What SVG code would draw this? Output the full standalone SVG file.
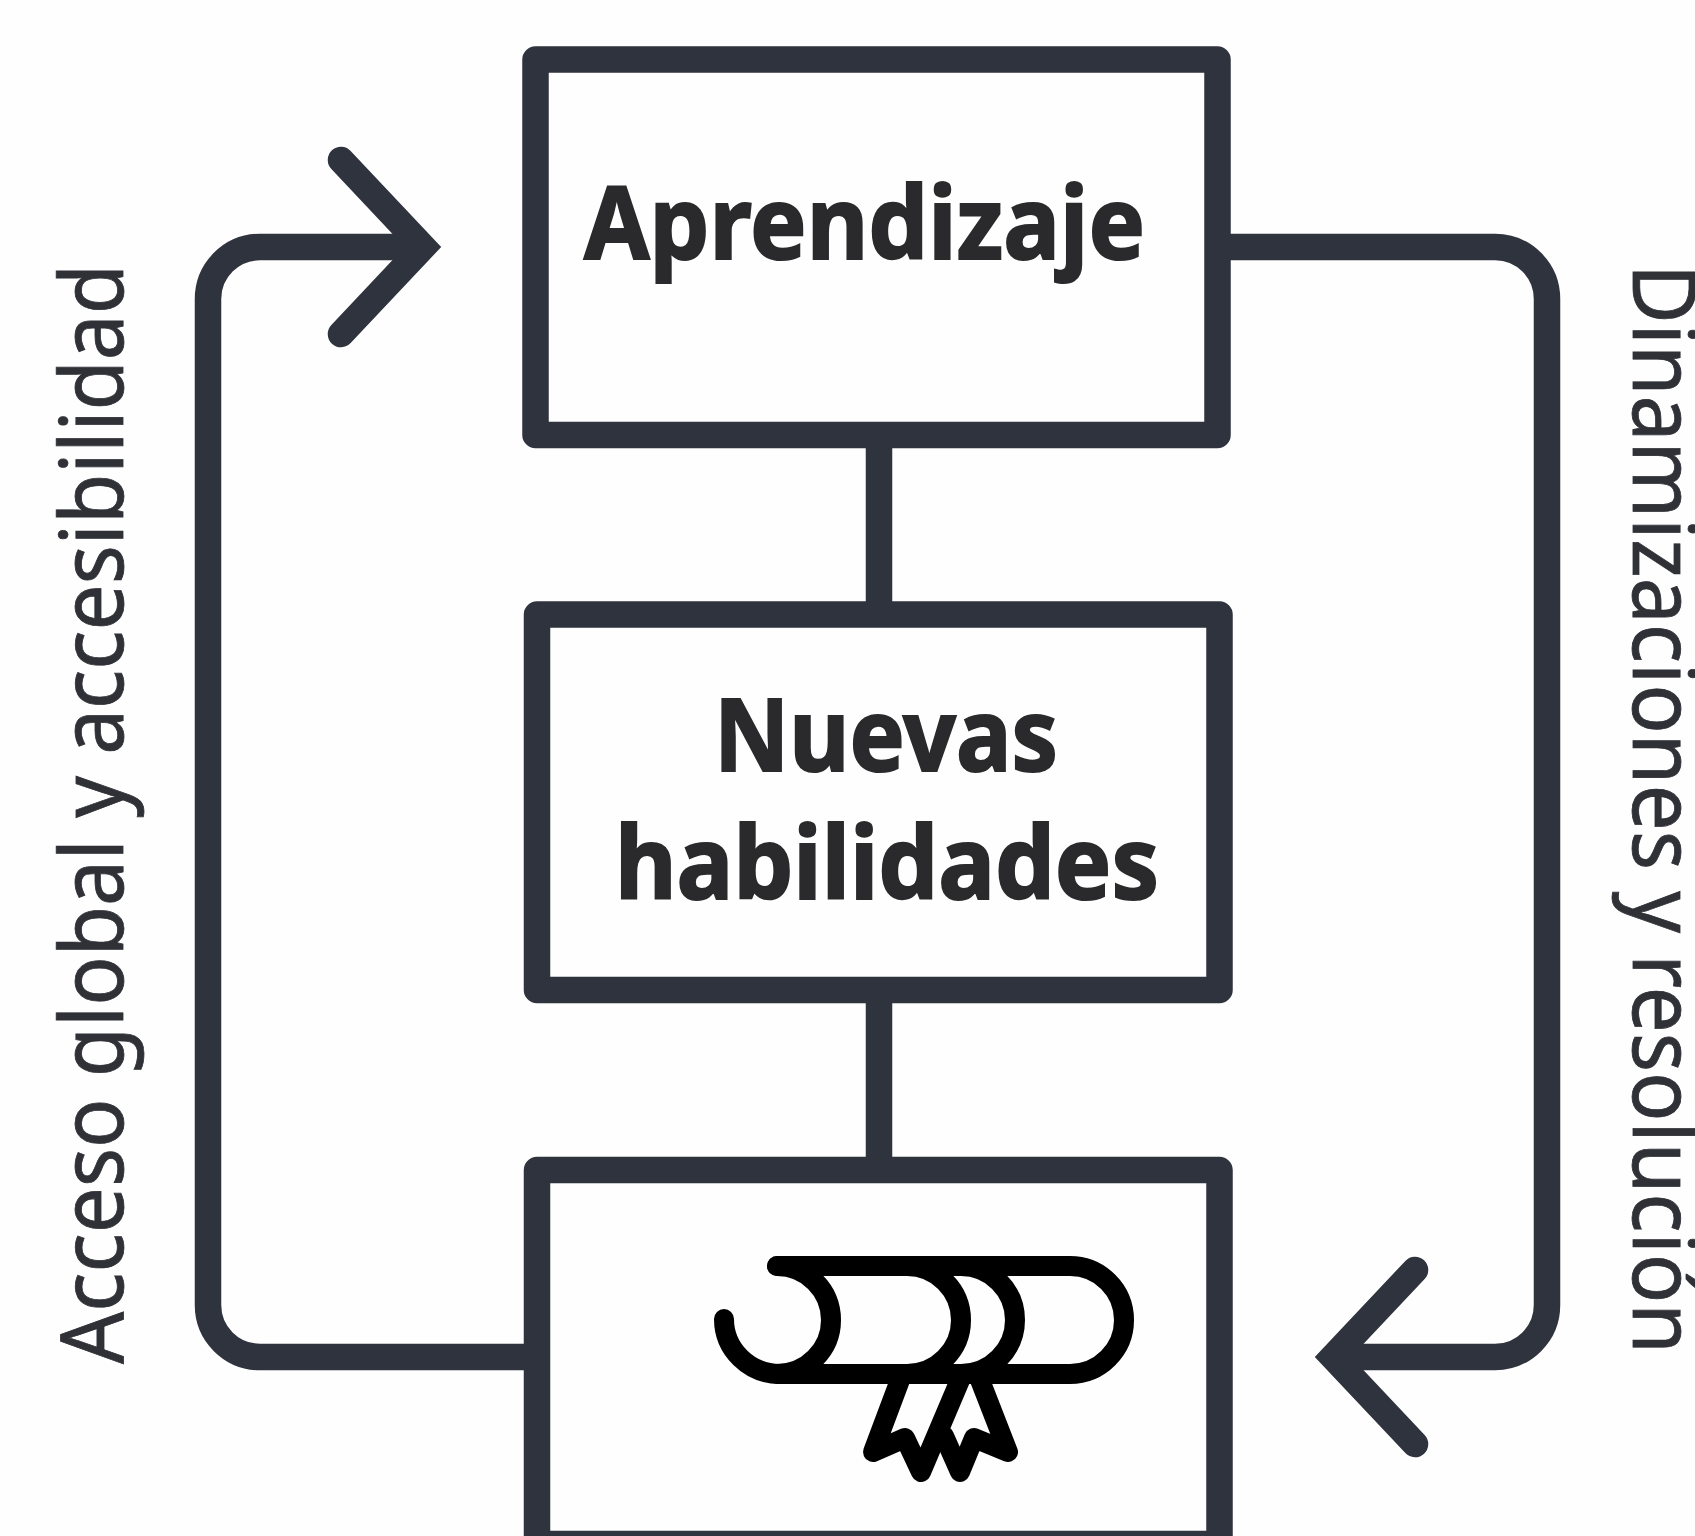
<svg xmlns="http://www.w3.org/2000/svg" width="1695" height="1536" viewBox="0 0 1695 1536">
<style>
.box{fill:#fefefe;stroke:#2f333d;stroke-width:26.5;stroke-linejoin:round}
.conn{fill:none;stroke:#2f333d;stroke-width:26.5;stroke-linecap:round;stroke-linejoin:miter;stroke-miterlimit:4}
.stem{fill:none;stroke:#2f333d;stroke-width:26.5}
.icon{fill:none;stroke:#000;stroke-width:20;stroke-linecap:round;stroke-linejoin:round}
.title{font-family:"Noto Sans",sans-serif;font-weight:700;font-size:100px;fill:#2a2a2c;stroke:#2a2a2c;stroke-width:2}
.side{font-family:"Noto Sans",sans-serif;font-weight:400;font-size:88px;fill:#2f3137;stroke:#2f3137;stroke-width:0.8}
</style>
<rect width="1695" height="1536" fill="#fefefe"/>
<g id="connectors">
<path class="stem" d="M879 435V615M879 990V1170"/>
<path class="stem" d="M1218 247H1495A52 52 0 0 1 1547 299V1305A52 52 0 0 1 1495 1357H1340"/>
<path class="stem" d="M537 1357H260A52 52 0 0 1 208 1305V299A52 52 0 0 1 260 247H415"/>
<path class="conn" d="M1415 1270L1333 1357L1415 1444"/>
<path class="conn" d="M341 160L423 247L341 334"/>
</g>
<g id="node-aprendizaje">
<rect class="box" x="535.5" y="59.5" width="682" height="375.5"/>
<text class="title" x="584" y="259" textLength="561" lengthAdjust="spacingAndGlyphs">Aprendizaje</text>
</g>
<g id="node-habilidades">
<rect class="box" x="537" y="614.5" width="682.5" height="375.5"/>
<text class="title" x="714" y="771" textLength="344" lengthAdjust="spacingAndGlyphs">Nuevas</text>
<text class="title" x="615" y="899" textLength="544" lengthAdjust="spacingAndGlyphs">habilidades</text>
</g>
<g id="node-titulo">
<rect class="box" x="537" y="1170" width="682.5" height="374"/>
<g id="diploma-icon" class="icon">
<path d="M777 1266H1070A54 54 0 0 1 1070 1374H780A56 55 0 0 1 724 1319"/>
<path d="M777 1266A54 54 0 0 1 777 1374"/>
<path d="M907 1266A54 54 0 0 1 907 1374"/>
<path d="M961 1266A54 54 0 0 1 961 1374"/>
<path d="M900 1380L873 1452L905 1438L921 1472L960 1380"/>
<path d="M980 1380L1008 1452L974 1438L960 1472L944 1436"/>
</g>
</g>
<g id="labels">
<text class="side" transform="translate(123 1364) rotate(-90)" textLength="1100" lengthAdjust="spacingAndGlyphs">Acceso global y accesibilidad</text>
<text class="side" transform="translate(1633 264) rotate(90)" textLength="1090" lengthAdjust="spacingAndGlyphs">Dinamizaciones y resolución</text>
</g>
</svg>
